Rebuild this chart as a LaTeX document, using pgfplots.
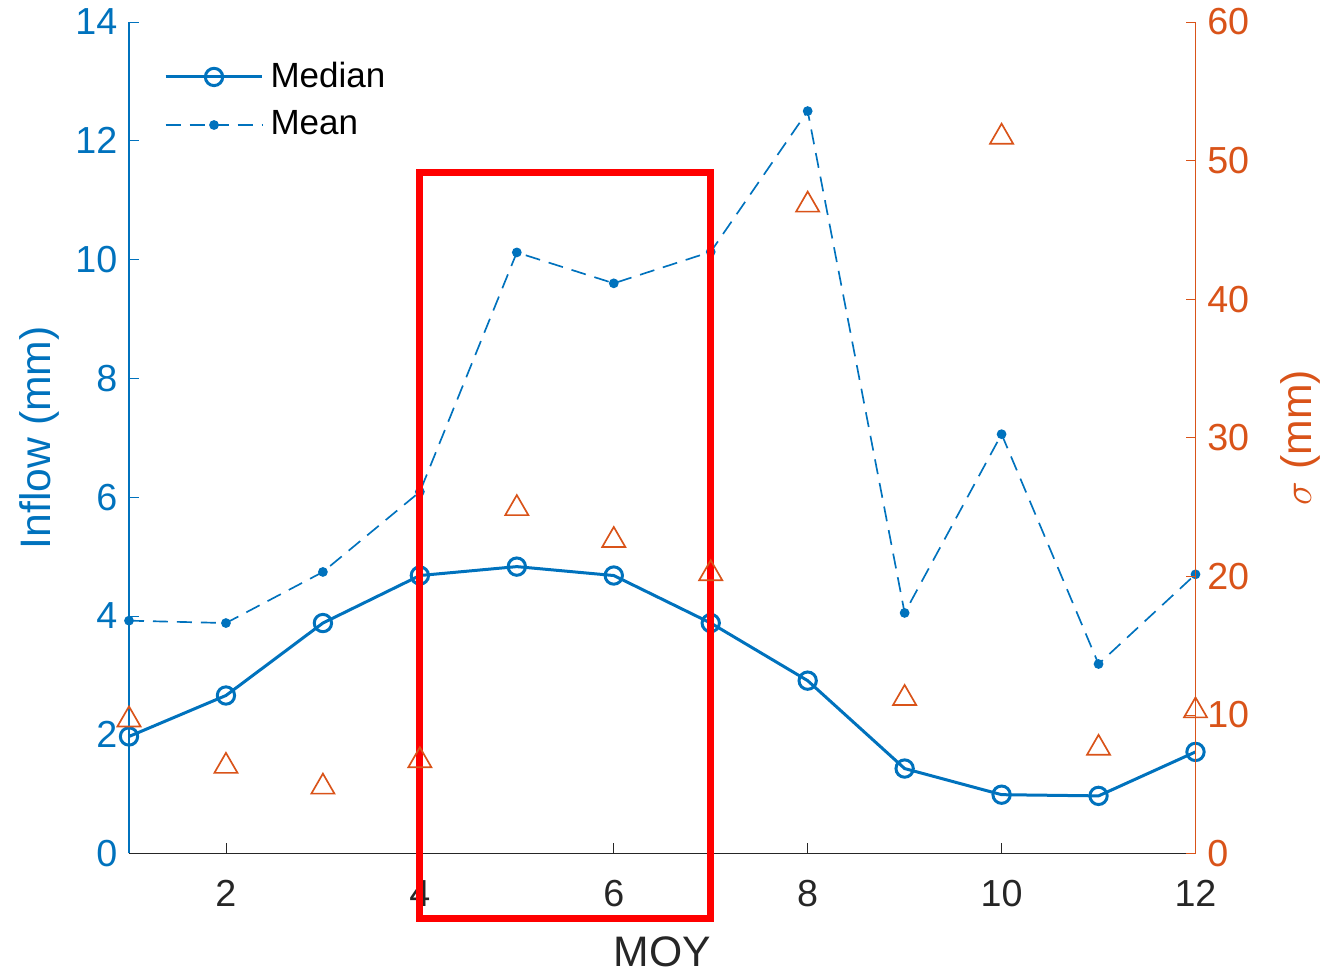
\documentclass[border=0pt]{standalone}
\usepackage{fontspec}
\setmainfont{Liberation Sans}
\usepackage{pgfplots}
\pgfplotsset{compat=1.18}
\definecolor{mblue}{RGB}{0,114,189}
\definecolor{morange}{RGB}{217,83,25}
\definecolor{mgray}{RGB}{38,38,38}
\begin{document}
\begin{tikzpicture}
\pgfplotsset{
  common/.style={
    width=319.95pt, height=249.45pt, scale only axis,
    xmin=1, xmax=12, clip=false,
    tick align=inside,
    major tick length=3pt,
    /pgf/number format/assume math mode=true,
    tick label style={font=\fontsize{11.3}{13}\selectfont},
    yticklabel style={inner ysep=0pt},
    label style={font=\fontsize{12.8}{15}\selectfont},
  }
}
% left axis: median and mean
\begin{axis}[common,
  axis x line*=bottom, axis y line*=left,
  x axis line style={mgray, line width=0.4pt},
  y axis line style={mblue, line width=0.4pt},
  xtick style={mgray}, ytick style={mblue},
  xticklabel style={mgray, yshift=-4.5pt}, yticklabel style={mblue},
  xtick={2,4,...,12},
  ymin=0, ymax=14, ytick={0,2,...,14},
  xlabel={MOY}, ylabel={Inflow (mm)},
  xlabel style={mgray, inner sep=0pt}, ylabel style={mblue},
  xlabel shift=5.3pt, ylabel shift=-2pt,
  legend style={draw=none, fill=none, at={(0.023,0.969)}, anchor=north west,
    font=\fontsize{10.5}{12}\selectfont, text=black, row sep=1.5pt},
  legend cell align=left,
  legend image code/.code={
    \draw[mark repeat=2, mark phase=2, #1] plot coordinates {(0pt,0pt) (14.5pt,0pt) (29pt,0pt)};
  },
]
\addplot[mblue, line width=0.9pt, mark=o, mark size=2.6pt, mark options={solid}]
  coordinates {(1,1.97) (2,2.66) (3,3.88) (4,4.68) (5,4.83) (6,4.68) (7,3.88) (8,2.91) (9,1.43) (10,0.99) (11,0.97) (12,1.71)};
\addlegendentry{Median}
\addplot[mblue, line width=0.5pt, dash pattern=on 4.5pt off 2.7pt, mark=*, mark size=1.2pt, mark options={solid}]
  coordinates {(1,3.92) (2,3.88) (3,4.74) (4,6.09) (5,10.12) (6,9.60) (7,10.13) (8,12.50) (9,4.05) (10,7.06) (11,3.19) (12,4.70)};
\addlegendentry{Mean}
\end{axis}
% right axis: standard deviation
\begin{axis}[common,
  axis x line=none, axis y line*=right,
  y axis line style={morange, line width=0.4pt},
  ytick style={morange}, yticklabel style={morange},
  ymin=0, ymax=60, ytick={0,10,...,60},
  ylabel={$\sigma$ (mm)}, ylabel style={morange, inner sep=0pt},
  ylabel shift=5.8pt,
]
\addplot[only marks, morange, mark=triangle, mark size=4pt, line width=0.5pt]
  coordinates {(1,9.65) (2,6.3) (3,4.8) (4,6.7) (5,24.9) (6,22.6) (7,20.2) (8,46.8) (9,11.2) (10,51.7) (11,7.6) (12,10.3)};
\draw[red, line width=2.1pt] (axis cs:4,49.13) rectangle (axis cs:7,-4.68);
\end{axis}
\path (-38.7pt,-35.25pt) rectangle (357.9pt,256.05pt);
\end{tikzpicture}
\end{document}
